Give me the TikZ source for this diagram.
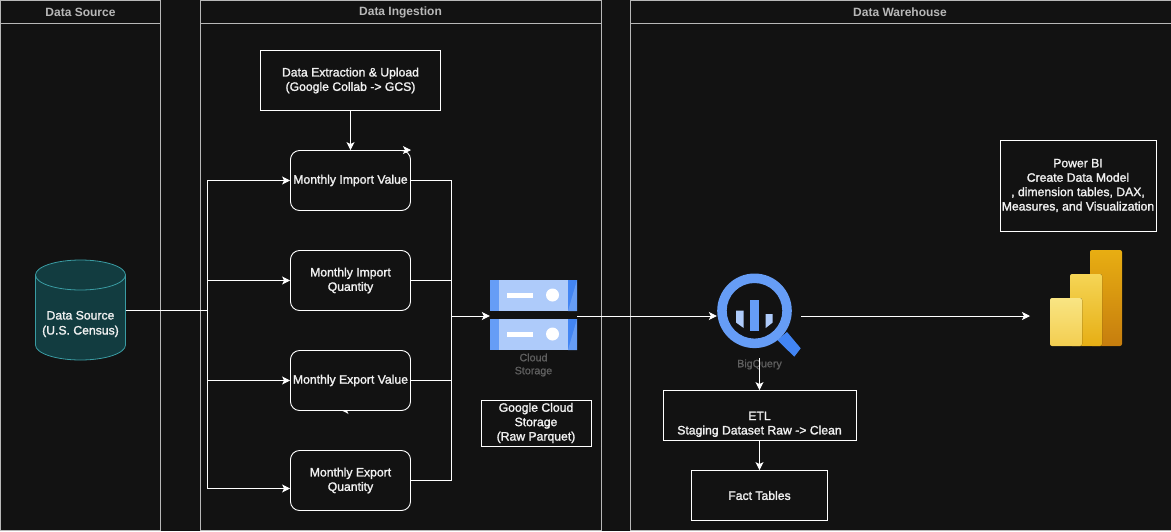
\documentclass[tikz,border=0pt]{standalone}
\usepackage{fontspec}
\setmainfont{Liberation Sans}
\newfontfamily\boxfont[FakeBold=1.6]{Liberation Sans}
\newfontfamily\iconfont[FakeBold=1]{Liberation Sans}
\usetikzlibrary{arrows.meta}
\definecolor{bgdark}{HTML}{121212}
\definecolor{panelline}{HTML}{B8B8B8}
\definecolor{txtlight}{HTML}{F0F0F0}
\definecolor{icongray}{HTML}{5F5F5F}
\definecolor{gblue}{HTML}{4285F4}
\definecolor{gmid}{HTML}{669DF6}
\definecolor{glight}{HTML}{AECBFA}
\definecolor{cyledge}{HTML}{3A9CA3}
\definecolor{cylfill}{HTML}{123C40}
\definecolor{biright}{HTML}{E8AE12}
\definecolor{birightlow}{HTML}{C67D0E}
\definecolor{bimid}{HTML}{F5D555}
\definecolor{bimidlow}{HTML}{E6AE14}
\definecolor{bileft}{HTML}{F9E583}
\definecolor{bileftlow}{HTML}{F3CD50}
\tikzset{
  panel/.style={draw=panelline,line width=.8pt},
  headtxt/.style={text=panelline,font=\fontsize{12}{14}\selectfont\bfseries},
  flowbox/.style={draw=white,line width=.9pt,text=txtlight,align=center,inner sep=0pt,font=\boxfont\fontsize{12.2}{14.4}\selectfont},
  manyline/.style={execute at begin node={\rule{0pt}{15pt}}},
  series/.style={flowbox,rounded corners=9pt,minimum width=120pt,minimum height=60pt},
  icontxt/.style={text=icongray,align=center,font=\iconfont\fontsize{10.7}{13}\selectfont},
  flow/.style={draw=white,line width=.9pt,-{Stealth[length=8pt,width=8pt,inset=2pt]}},
  wire/.style={draw=white,line width=.9pt}
}
\begin{document}
\begin{tikzpicture}[x=1pt,y=-1pt]
\useasboundingbox (0,0) rectangle (1171,531);
\fill[bgdark] (0,0) rectangle (1171,531);

\draw[panel] (.5,.5) rectangle (160.5,530.5);
\draw[panel] (.5,23.5) -- (160.5,23.5);
\draw[panel] (200.5,.5) rectangle (601,530.5);
\draw[panel] (200.5,23.5) -- (601,23.5);
\draw[panel] (630.5,.5) rectangle (1171,530.5);
\draw[panel] (630.5,23.5) -- (1171,23.5);
\node[headtxt] (headsrc) at (80.5,12) {Data Source};
\node[headtxt] (heading) at (400.5,12) {Data Ingestion};
\node[headtxt] (headdw) at (900,12) {Data Warehouse};

% data source drum
\draw[draw=cyledge,fill=cylfill,line width=.8pt] (35.5,275) arc[start angle=180,end angle=360,x radius=45,y radius=15]
  -- (125.5,345) arc[start angle=0,end angle=180,x radius=45,y radius=15] -- cycle;
\draw[draw=cyledge,line width=.8pt] (35.5,275) arc[start angle=180,end angle=0,x radius=45,y radius=15];
\node[minimum width=90pt,minimum height=100pt,inner sep=0pt] (src) at (80.5,310.5) {};
\node[text=txtlight,align=center,font=\boxfont\fontsize{12.2}{15}\selectfont] (srctxt) at (80.5,324) {Data Source\\(U.S. Census)};

\node[flowbox,manyline,minimum width=180pt,minimum height=60pt] (extract) at (350.5,80.5) {Data Extraction \& Upload\\(Google Collab -> GCS)};
\node[series] (miv) at (350.5,180.5) {Monthly Import Value};
\node[series,manyline] (miq) at (350.5,280.5) {Monthly Import\\Quantity};
\node[series] (mev) at (350.5,380.5) {Monthly Export Value};
\node[series,manyline] (meq) at (350.5,480.5) {Monthly Export\\Quantity};
\node[flowbox,manyline,minimum width=110pt,minimum height=46pt] (gcsbox) at (536,423) {Google Cloud\\Storage\\(Raw Parquet)};
\node[flowbox,minimum width=193pt,minimum height=50pt] (etl) at (759.5,415.5) {\rule{0pt}{26pt}ETL\\Staging Dataset Raw -> Clean};
\node[flowbox,minimum width=136pt,minimum height=50pt] (fact) at (759.5,495.5) {Fact Tables};
\node[flowbox,manyline,minimum width=156pt,minimum height=91pt] (pbibox) at (1078,185.5) {Power BI\\Create Data Model\\, dimension tables, DAX,\\Measures, and Visualization};

% cloud storage icon
\node[minimum width=87pt,minimum height=70pt,inner sep=0pt] (gcs) at (533.5,315.5) {};
\begin{scope}[shift={(490,280)}]
\fill[glight] (9,0) rectangle (78,31);
\fill[gmid] (0,0) rectangle (9,31);
\fill[gblue] (78,0) rectangle (87,31);
\fill[gmid] (87,0) -- (87,31) -- (78,31) -- cycle;
\fill[white] (17,13) rectangle (43,17.5);
\fill[white] (62.5,15) circle (6.5);
\end{scope}
\begin{scope}[shift={(490,319)}]
\fill[glight] (9,0) rectangle (78,31);
\fill[gmid] (0,0) rectangle (9,31);
\fill[gblue] (78,0) rectangle (87,31);
\fill[gmid] (87,0) -- (87,31) -- (78,31) -- cycle;
\fill[white] (17,13) rectangle (43,17.5);
\fill[white] (62.5,15) circle (6.5);
\end{scope}
\node[icontxt] (gcstxt) at (533.5,365) {Cloud\\Storage};

% bigquery icon
\node[minimum width=84pt,minimum height=80pt,inner sep=0pt] (bq) at (759,316) {};
\fill[gblue] (787,332) -- (800.7,348.3) -- (794.3,356.7) -- (777.3,340) -- cycle;
\fill[gmid,even odd rule] (754.5,310.8) circle (37.3) (754.5,310.8) circle (27.8);
\fill[gmid] (750,300) rectangle (759,331);
\fill[glight] (736,310.5) -- (743.7,310.5) -- (743.7,328) -- (736,322.5) -- cycle;
\fill[glight] (765.7,314) -- (772.7,314) -- (772.7,322.5) -- (765.7,328) -- cycle;
\node[icontxt] (bqtxt) at (759.5,364.5) {BigQuery};

% power bi icon
\fill[rounded corners=2pt,top color=biright,bottom color=birightlow] (1090,250) rectangle (1122,346);
\fill[rounded corners=2pt,top color=bimid,bottom color=bimidlow] (1070,274) rectangle (1102,346);
\fill[rounded corners=2pt,top color=bileft,bottom color=bileftlow] (1050,298) rectangle (1082,346);

\coordinate (junc) at (207.5,310.5);
\coordinate (bus) at (451,316);
\coordinate (bqout) at (759.5,358);
\coordinate (pbiin) at (1030,316);

\draw[wire] (src.east |- junc) -- (junc);
\draw[flow] (junc) |- (miv.west);
\draw[flow] (junc) |- (miq.west);
\draw[flow] (junc) |- (mev.west);
\draw[flow] (junc) |- ([yshift=-8pt]meq.west);
\draw[wire] (miv.east) -| (bus);
\draw[wire] (miq.east) -| (bus);
\draw[wire] (mev.east) -| (bus);
\draw[wire] (meq.east) -| (bus);
\draw[flow] (bus) -- (bus -| gcs.west);
\draw[flow] (bus -| gcs.east) -- (bus -| bq.west);
\draw[flow] (bus -| bq.east) -- (pbiin);
\draw[flow] (extract.south) -- (miv.north);
\draw[flow] (miv.north) -- (miv.north east);
\fill[white] (341.5,410.5) -- (347,410.5) -- (348.5,414) -- (345,412) -- cycle;
\draw[flow] (bqout) -- (etl.north);
\draw[flow] (etl.south) -- (fact.north);
\end{tikzpicture}
\end{document}
